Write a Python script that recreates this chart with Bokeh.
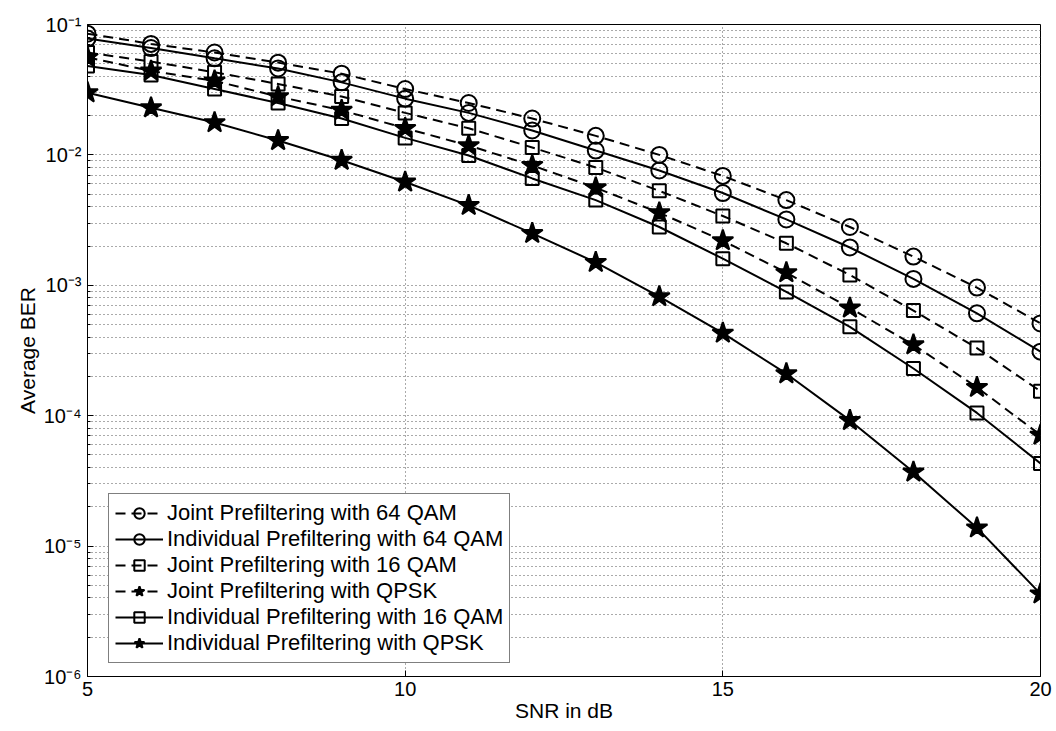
from bokeh.plotting import figure
from bokeh.models import (Range1d, FixedTicker, CustomJSTickFormatter, Legend, LegendItem)
from bokeh.embed import file_html
from bokeh.resources import INLINE

snr = [5, 6, 7, 8, 9, 10, 11, 12, 13, 14, 15, 16, 17, 18, 19, 20]

joint_64qam = [0.085, 0.071, 0.061, 0.051, 0.042, 0.032, 0.025, 0.019, 0.014, 0.0100,
               0.0069, 0.0045, 0.0028, 0.00166, 0.00096, 0.00051]
indiv_64qam = [0.078, 0.066, 0.055, 0.046, 0.036, 0.027, 0.021, 0.0154, 0.0108, 0.0076,
               0.0051, 0.0032, 0.00195, 0.00112, 0.00061, 0.00031]
joint_16qam = [0.061, 0.052, 0.043, 0.035, 0.028, 0.021, 0.016, 0.0114, 0.0080, 0.0053,
               0.0034, 0.0021, 0.0012, 0.00064, 0.00033, 0.000154]
joint_qpsk = [0.056, 0.044, 0.037, 0.028, 0.022, 0.016, 0.0118, 0.0083, 0.0056, 0.0036,
              0.0022, 0.00125, 0.00067, 0.00035, 0.000165, 0.000071]
indiv_16qam = [0.048, 0.041, 0.032, 0.025, 0.019, 0.0135, 0.0099, 0.0066, 0.0045, 0.0028,
               0.0016, 0.00089, 0.00048, 0.00023, 0.000105, 0.000043]
indiv_qpsk = [0.030, 0.023, 0.0177, 0.0129, 0.0091, 0.0062, 0.0041, 0.0025, 0.0015, 0.00082,
              0.00043, 0.00021, 0.000092, 0.000037, 0.0000138, 0.0000043]

x_ticks = [5, 10, 15, 20]
y_ticks = [1e-6, 1e-5, 1e-4, 1e-3, 1e-2, 1e-1]
y_minor = [k * d for d in [1e-6, 1e-5, 1e-4, 1e-3, 1e-2] for k in range(2, 10)]

FONT = "Liberation Sans"

p = figure(width=1056, height=731, output_backend="svg", toolbar_location=None,
           y_axis_type="log", x_range=Range1d(5, 20), y_range=Range1d(1e-6, 1e-1),
           min_border_left=87, min_border_right=16, min_border_top=24, min_border_bottom=55)
p.background_fill_color = "white"
p.border_fill_color = "white"
p.outline_line_color = "black"
p.outline_line_width = 1

# axes
p.xaxis.ticker = FixedTicker(ticks=x_ticks, minor_ticks=[])
p.yaxis.ticker = FixedTicker(ticks=y_ticks, minor_ticks=y_minor)
p.yaxis.formatter = CustomJSTickFormatter(code="""
const sup = {'-':'\u207b','0':'\u2070','1':'\u00b9','2':'\u00b2','3':'\u00b3','4':'\u2074',
             '5':'\u2075','6':'\u2076','7':'\u2077','8':'\u2078','9':'\u2079'};
const e = String(Math.round(Math.log10(tick)));
return '10' + e.split('').map(c => sup[c]).join('');
""")
for ax in [p.xaxis[0], p.yaxis[0]]:
    ax.major_tick_in = 6
    ax.major_tick_out = 0
    ax.minor_tick_in = 3
    ax.minor_tick_out = 0
    ax.axis_line_color = "black"
    ax.major_tick_line_color = "black"
    ax.minor_tick_line_color = "black"
    ax.major_label_text_font = FONT
    ax.major_label_text_font_size = "20px"
    ax.major_label_text_color = "black"
    ax.axis_label_text_font = FONT
    ax.axis_label_text_font_size = "21px"
    ax.axis_label_text_font_style = "normal"
    ax.axis_label_text_color = "black"
p.xaxis.axis_label = "SNR in dB"
p.yaxis.axis_label = "Average BER"
p.xaxis.major_label_standoff = 5
p.xaxis.axis_label_standoff = 0
p.yaxis.major_label_standoff = 6
p.yaxis.axis_label_standoff = 2

# grid
p.xgrid.grid_line_color = "#555555"
p.xgrid.grid_line_dash = "1 3"
p.xgrid.grid_line_width = 1
p.ygrid.grid_line_color = "#555555"
p.ygrid.grid_line_dash = "1 3"
p.ygrid.minor_grid_line_color = "#555555"
p.ygrid.minor_grid_line_dash = "1 3"

series = [
    ("Joint Prefiltering with 64 QAM", joint_64qam, "10 6", "circle", 16),
    ("Individual Prefiltering with 64 QAM", indiv_64qam, "solid", "circle", 16),
    ("Joint Prefiltering with 16 QAM", joint_16qam, "10 6", "square", 13),
    ("Joint Prefiltering with QPSK", joint_qpsk, "10 6", "star", 22),
    ("Individual Prefiltering with 16 QAM", indiv_16qam, "solid", "square", 13),
    ("Individual Prefiltering with QPSK", indiv_qpsk, "solid", "star", 22),
]

items = []
for label, vals, dash, marker, size in series:
    ln = p.line(snr, vals, line_color="black", line_width=2, line_dash=dash)
    if marker == "star":
        sc = p.scatter(snr, vals, marker=marker, size=size, line_color="black",
                       line_width=2, fill_color="black")
    else:
        sc = p.scatter(snr, vals, marker=marker, size=size, line_color="black",
                       line_width=2, fill_color=None)
    items.append(LegendItem(label=label, renderers=[ln, sc]))

legend = Legend(items=items, location=(21, 13))
legend.label_text_font = FONT
legend.label_text_font_size = "22px"
legend.label_text_color = "black"
legend.border_line_color = "black"
legend.border_line_width = 1
legend.background_fill_color = "white"
legend.background_fill_alpha = 1
legend.glyph_width = 48
legend.glyph_height = 26
legend.label_height = 26
legend.spacing = 0
legend.padding = 6
legend.margin = 0
legend.label_standoff = 4
p.add_layout(legend, "center")

open("out.html", "w").write(file_html(p, INLINE))
